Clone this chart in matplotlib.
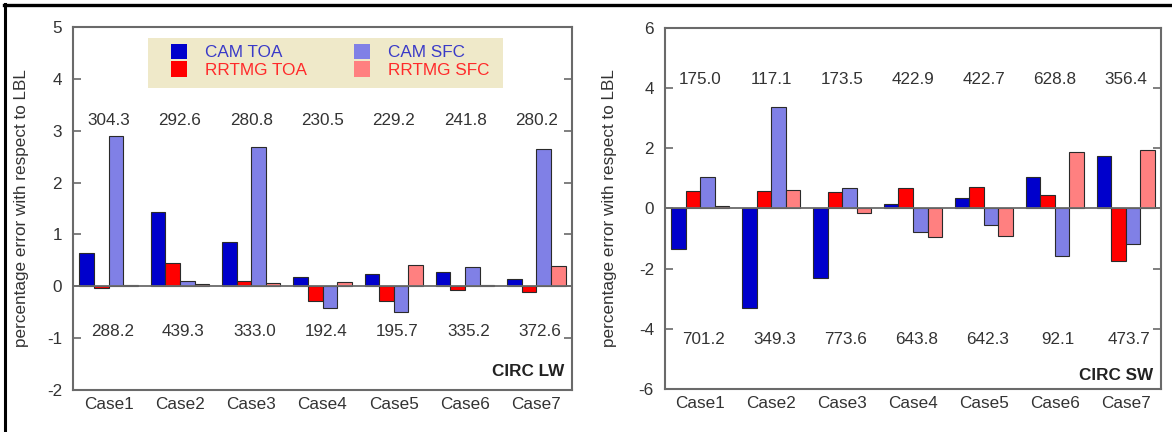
import matplotlib
matplotlib.use("Agg")
import matplotlib.pyplot as plt
import numpy as np
from matplotlib.patches import Rectangle
from matplotlib.lines import Line2D

plt.rcParams['font.family'] = ['Liberation Sans', 'DejaVu Sans']

cases = ["Case1", "Case2", "Case3", "Case4", "Case5", "Case6", "Case7"]
series = ["CAM TOA", "RRTMG TOA", "CAM SFC", "RRTMG SFC"]
bar_colors = ["#0000cc", "#ff0000", "#8080e6", "#ff8080"]
text_colors = ["#3a3ac8", "#ff2a2a", "#3a3ac8", "#ff2a2a"]

# CIRC LW (percentage error)
lw_cam_toa = [0.64, 1.43, 0.85, 0.18, 0.24, 0.27, 0.15]
lw_rrtmg_toa = [-0.04, 0.44, 0.10, -0.28, -0.28, -0.08, -0.11]
lw_cam_sfc = [2.89, 0.10, 2.68, -0.42, -0.49, 0.37, 2.64]
lw_rrtmg_sfc = [0.03, 0.05, 0.07, 0.08, 0.41, 0.03, 0.40]
lw_top_labels = ["304.3", "292.6", "280.8", "230.5", "229.2", "241.8", "280.2"]
lw_bot_labels = ["288.2", "439.3", "333.0", "192.4", "195.7", "335.2", "372.6"]

# CIRC SW (percentage error)
sw_cam_toa = [-1.36, -3.32, -2.32, 0.16, 0.34, 1.05, 1.76]
sw_rrtmg_toa = [0.58, 0.58, 0.55, 0.68, 0.73, 0.44, -1.76]
sw_cam_sfc = [1.05, 3.39, 0.68, -0.79, -0.55, -1.58, -1.17]
sw_rrtmg_sfc = [0.09, 0.62, -0.16, -0.96, -0.91, 1.87, 1.93]
sw_top_labels = ["175.0", "117.1", "173.5", "422.9", "422.7", "628.8", "356.4"]
sw_bot_labels = ["701.2", "349.3", "773.6", "643.8", "642.3", "92.1", "473.7"]

W, H = 1172, 432
fig = plt.figure(figsize=(W / 100, H / 100), dpi=100)
fig.patch.set_facecolor("white")

def px_axes(x0, y0, x1, y1):
    return fig.add_axes([x0 / W, 1 - y1 / H, (x1 - x0) / W, (y1 - y0) / H])

ax1 = px_axes(73, 27, 572, 390)
ax2 = px_axes(665, 28, 1161, 389)

FS = 12.3
TXT = "#333333"
SPINE = "#6a6a6a"
bw = 0.205
x = np.arange(len(cases))

def draw(ax, data, ylim, yticks, top_labels, top_y, bot_labels, bot_y, title, title_y):
    for i, (vals, c) in enumerate(zip(data, bar_colors)):
        ax.bar(x + (i - 1.5) * bw, vals, width=bw, color=c, edgecolor="#2a2a2a",
               linewidth=0.8, label=series[i], zorder=2)
    ax.axhline(0, color=SPINE, linewidth=1.3, zorder=3)
    ax.set_xlim(-0.5, len(cases) - 0.5)
    ax.set_ylim(*ylim)
    ax.set_yticks(yticks)
    ax.set_yticklabels([str(t) for t in yticks])
    ax.set_xticks(x)
    ax.set_xticklabels(cases)
    ax.tick_params(axis="y", direction="in", length=6, width=1.2, color=SPINE,
                   left=True, right=True, labelsize=FS, labelcolor=TXT, pad=8)
    ax.tick_params(axis="x", length=0, labelsize=FS, labelcolor=TXT, pad=5)
    for s in ax.spines.values():
        s.set_color(SPINE)
        s.set_linewidth(1.5)
    for xi, t in zip(x, top_labels):
        ax.text(xi, top_y, t, ha="center", va="center", fontsize=FS, color=TXT)
    for xi, t in zip(x, bot_labels):
        ax.text(xi + 0.05, bot_y, t, ha="center", va="center", fontsize=FS, color=TXT)
    ax.text(0.985, title_y, title, transform=ax.transAxes, ha="right", va="center",
            fontsize=FS, fontweight="bold", color="#222222")
    ax.set_ylabel("percentage error with respect to LBL", fontsize=FS, color=TXT)

draw(ax1, [lw_cam_toa, lw_rrtmg_toa, lw_cam_sfc, lw_rrtmg_sfc], (-2, 5),
     [-2, -1, 0, 1, 2, 3, 4, 5], lw_top_labels, 3.2, lw_bot_labels, -0.87,
     "CIRC LW", (390 - 372) / 363)
draw(ax2, [sw_cam_toa, sw_rrtmg_toa, sw_cam_sfc, sw_rrtmg_sfc], (-6, 6),
     [-6, -4, -2, 0, 2, 4, 6], sw_top_labels, 4.3, sw_bot_labels, -4.34,
     "CIRC SW", (389 - 375) / 361)
ax1.yaxis.set_label_coords(-0.088, 0.5)
ax2.yaxis.set_label_coords(-0.097, 0.5)

# legend background
ax1.add_patch(Rectangle(((148 - 73) / 499, (390 - 88) / 363), (503 - 148) / 499, 50 / 363,
                        transform=ax1.transAxes, facecolor="#efe9c9", edgecolor="none",
                        zorder=4))
handles, labels = ax1.get_legend_handles_labels()
order = [0, 1, 2, 3]
leg = ax1.legend([handles[i] for i in order], [labels[i] for i in order], ncol=2,
                 loc="upper left", bbox_to_anchor=((171 - 73) / 499, (390 - 44) / 363),
                 frameon=False, borderpad=0, borderaxespad=0, handlelength=0.95,
                 handleheight=1.0, labelspacing=0.05, handletextpad=1.05,
                 columnspacing=2.75, fontsize=FS, labelcolor=text_colors)
leg.set_zorder(5)
for h in leg.legend_handles:
    h.set_edgecolor("none")

# figure border lines (top and left)
fig.add_artist(Line2D([4 / W, 1], [1 - 5 / H, 1 - 5 / H], transform=fig.transFigure,
                      color="black", linewidth=2.4))
fig.add_artist(Line2D([5 / W, 5 / W], [0, 1 - 4 / H], transform=fig.transFigure,
                      color="black", linewidth=2.2))

fig.savefig("out.png", dpi=100)
